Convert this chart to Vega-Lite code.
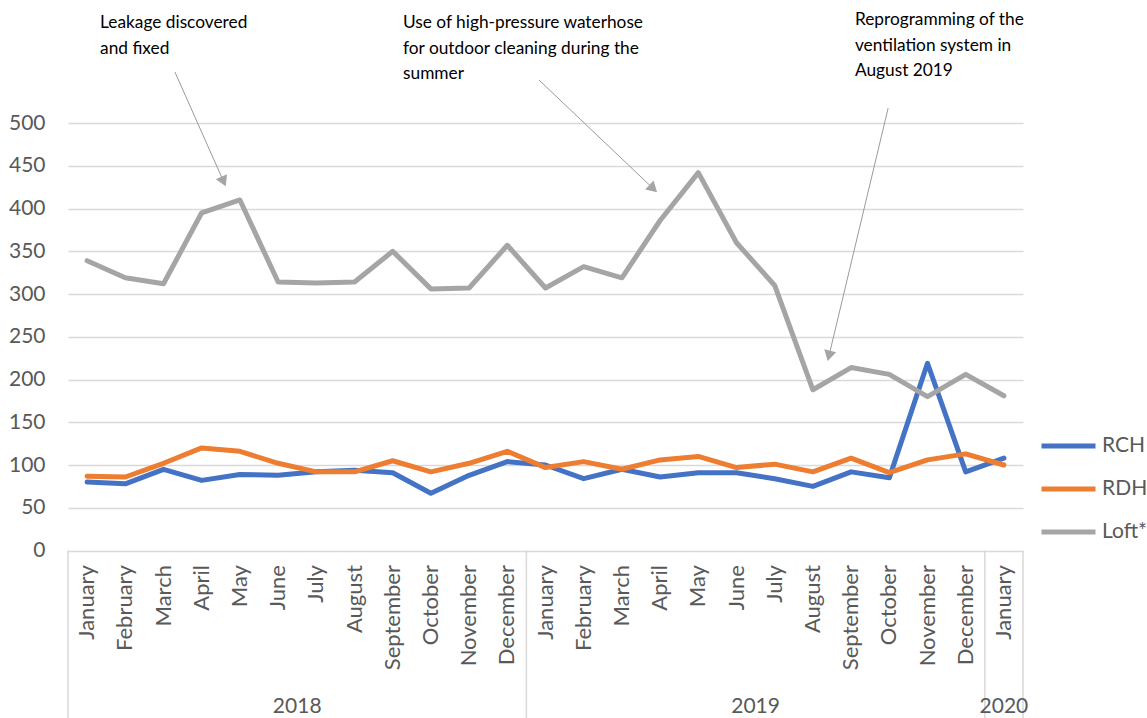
{
  "$schema": "https://vega.github.io/schema/vega-lite/v6.json",
  "width": 955,
  "height": 718,
  "autosize": {"type": "none"},
  "padding": {"left": 68, "top": 0, "right": 124, "bottom": 0},
  "background": "white",
  "config": {
    "view": {"stroke": null},
    "font": "Lato",
    "legend": {"padding": 0},
    "axisY": {
      "domain": false, "ticks": false,
      "grid": true, "gridColor": "#D9D9D9", "gridWidth": 1.5,
      "labelFont": "Lato", "labelFontSize": 21, "labelColor": "#595959",
      "labelPadding": 23
    }
  },
  "datasets": {
    "months": [
      {"i": 0, "month": "January", "year": "2018", "RCH": 80, "RDH": 87, "Loft*": 339},
      {"i": 1, "month": "February", "year": "2018", "RCH": 78, "RDH": 86, "Loft*": 319},
      {"i": 2, "month": "March", "year": "2018", "RCH": 95, "RDH": 102, "Loft*": 312},
      {"i": 3, "month": "April", "year": "2018", "RCH": 82, "RDH": 120, "Loft*": 395},
      {"i": 4, "month": "May", "year": "2018", "RCH": 89, "RDH": 116, "Loft*": 410},
      {"i": 5, "month": "June", "year": "2018", "RCH": 88, "RDH": 102, "Loft*": 314},
      {"i": 6, "month": "July", "year": "2018", "RCH": 92, "RDH": 92, "Loft*": 313},
      {"i": 7, "month": "August", "year": "2018", "RCH": 94, "RDH": 92, "Loft*": 314},
      {"i": 8, "month": "September", "year": "2018", "RCH": 91, "RDH": 105, "Loft*": 350},
      {"i": 9, "month": "October", "year": "2018", "RCH": 67, "RDH": 92, "Loft*": 306},
      {"i": 10, "month": "November", "year": "2018", "RCH": 88, "RDH": 102, "Loft*": 307},
      {"i": 11, "month": "December", "year": "2018", "RCH": 104, "RDH": 116, "Loft*": 357},
      {"i": 12, "month": "January", "year": "2019", "RCH": 100, "RDH": 97, "Loft*": 307},
      {"i": 13, "month": "February", "year": "2019", "RCH": 84, "RDH": 104, "Loft*": 332},
      {"i": 14, "month": "March", "year": "2019", "RCH": 95, "RDH": 95, "Loft*": 319},
      {"i": 15, "month": "April", "year": "2019", "RCH": 86, "RDH": 106, "Loft*": 386},
      {"i": 16, "month": "May", "year": "2019", "RCH": 91, "RDH": 110, "Loft*": 442},
      {"i": 17, "month": "June", "year": "2019", "RCH": 91, "RDH": 97, "Loft*": 360},
      {"i": 18, "month": "July", "year": "2019", "RCH": 84, "RDH": 101, "Loft*": 310},
      {"i": 19, "month": "August", "year": "2019", "RCH": 75, "RDH": 92, "Loft*": 188},
      {"i": 20, "month": "September", "year": "2019", "RCH": 92, "RDH": 108, "Loft*": 214},
      {"i": 21, "month": "October", "year": "2019", "RCH": 85, "RDH": 91, "Loft*": 206},
      {"i": 22, "month": "November", "year": "2019", "RCH": 219, "RDH": 106, "Loft*": 180},
      {"i": 23, "month": "December", "year": "2019", "RCH": 92, "RDH": 113, "Loft*": 206},
      {"i": 24, "month": "January", "year": "2020", "RCH": 108, "RDH": 100, "Loft*": 181}
    ],
    "years": [
      {"year": "2018", "mid": 5.5},
      {"year": "2019", "mid": 17.5},
      {"year": "2020", "mid": 24}
    ],
    "bounds": [
      {"b": -0.5}, {"b": 11.5}, {"b": 23.5}, {"b": 24.5}
    ],
    "notes": [
      {"note": "Leakage discovered\nand fixed", "x": 0.34, "y": 627.5},
      {"note": "Use of high-pressure waterhose\nfor outdoor cleaning during the\nsummer", "x": 8.27, "y": 627.5},
      {"note": "Reprogramming of the\nventilation system in\nAugust 2019", "x": 20.1, "y": 631}
    ],
    "arrows": [
      {"x1": 2.30, "y1": 559.6, "x2": 3.573, "y2": 431.6},
      {"x1": 11.83, "y1": 550.3, "x2": 14.82, "y2": 423.3},
      {"x1": 20.97, "y1": 517.5, "x2": 19.42, "y2": 227.6}
    ]
  },
  "encoding": {
    "y": {
      "type": "quantitative",
      "scale": {"domain": [-195.9, 643.9], "nice": false, "zero": false},
      "axis": {"values": [0, 50, 100, 150, 200, 250, 300, 350, 400, 450, 500], "title": null}
    }
  },
  "layer": [
    {
      "data": {"name": "bounds"},
      "mark": {"type": "rule", "stroke": "#D9D9D9", "strokeWidth": 1.5},
      "encoding": {
        "x": {"field": "b", "type": "quantitative", "scale": {"domain": [-0.5, 24.5], "nice": false, "zero": false}, "axis": null},
        "y": {"datum": 0, "type": "quantitative"},
        "y2": {"datum": -195.9}
      }
    },
    {
      "data": {"name": "months"},
      "transform": [{"fold": ["RCH", "RDH", "Loft*"], "as": ["series", "value"]}],
      "mark": {"type": "line", "strokeWidth": 5, "strokeJoin": "round", "strokeCap": "round"},
      "encoding": {
        "x": {"field": "i", "type": "quantitative", "axis": null},
        "y": {"field": "value", "type": "quantitative"},
        "color": {
          "field": "series", "type": "nominal",
          "scale": {"domain": ["RCH", "RDH", "Loft*"], "range": ["#4472C4", "#ED7D31", "#A5A5A5"]},
          "legend": {
            "title": null, "orient": "none", "legendX": 971, "legendY": 436,
            "symbolType": "stroke", "symbolSize": 2916, "symbolStrokeWidth": 5,
            "clipHeight": 20, "rowPadding": 22,
            "labelFont": "Lato", "labelFontSize": 21, "labelColor": "#595959", "labelOffset": 4
          }
        }
      }
    },
    {
      "data": {"name": "months"},
      "mark": {"type": "text", "angle": 270, "align": "right", "baseline": "middle", "font": "Lato", "fontSize": 22, "color": "#595959"},
      "encoding": {
        "x": {"field": "i", "type": "quantitative", "axis": null},
        "y": {"datum": -17, "type": "quantitative"},
        "text": {"field": "month"}
      }
    },
    {
      "data": {"name": "years"},
      "mark": {"type": "text", "align": "center", "baseline": "middle", "font": "Lato", "fontSize": 21, "color": "#595959"},
      "encoding": {
        "x": {"field": "mid", "type": "quantitative", "axis": null},
        "y": {"datum": -183, "type": "quantitative"},
        "text": {"field": "year"}
      }
    },
    {
      "data": {"name": "arrows"},
      "mark": {"type": "rule", "stroke": "#9A9A9A", "strokeWidth": 1},
      "encoding": {
        "x": {"field": "x1", "type": "quantitative", "axis": null},
        "y": {"field": "y1", "type": "quantitative"},
        "x2": {"field": "x2"},
        "y2": {"field": "y2"}
      }
    },
    {
      "data": {"name": "arrows"},
      "transform": [
        {"calculate": "atan2((datum.x2 - datum.x1) * 38.2, (datum.y2 - datum.y1) * 0.855) * 180 / PI", "as": "ang"}
      ],
      "mark": {"type": "point", "shape": "triangle-up", "filled": true, "size": 150, "color": "#A5A5A5", "opacity": 1},
      "encoding": {
        "x": {"field": "x2", "type": "quantitative", "axis": null},
        "y": {"field": "y2", "type": "quantitative"},
        "angle": {"field": "ang", "type": "quantitative", "scale": null}
      }
    },
    {
      "data": {"name": "notes"},
      "mark": {"type": "text", "align": "left", "baseline": "top", "lineBreak": "\n", "lineHeight": 25.5, "font": "Lato", "fontSize": 17.3, "color": "#000000"},
      "encoding": {
        "x": {"field": "x", "type": "quantitative", "axis": null},
        "y": {"field": "y", "type": "quantitative"},
        "text": {"field": "note"}
      }
    }
  ]
}
